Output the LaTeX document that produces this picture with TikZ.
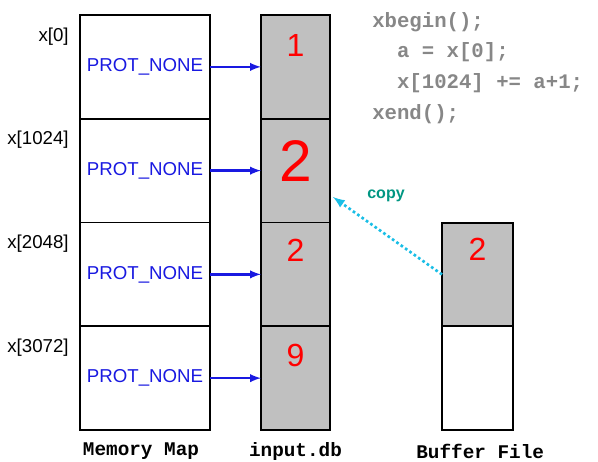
\documentclass[tikz,border=0pt]{standalone}
\usepackage{fontspec}
\setmainfont{Liberation Sans}
\setmonofont{Liberation Mono}
\usetikzlibrary{positioning}
\definecolor{protblue}{RGB}{25,25,225}
\definecolor{cellgray}{RGB}{192,192,192}
\definecolor{copycyan}{RGB}{25,190,230}
\definecolor{copyteal}{RGB}{0,150,130}
\definecolor{codegray}{RGB}{135,135,135}

\begin{document}
\begin{tikzpicture}[x=0.75pt,y=-0.75pt,
  mapcell/.style={draw,line width=1.4pt,fill=white,minimum width=97.5pt,minimum height=77.8pt,
    inner sep=0pt,outer sep=0pt,text=protblue,font=\fontsize{14}{16}\selectfont},
  dbcell/.style={draw,line width=1.4pt,fill=cellgray,minimum width=51.75pt,minimum height=77.8pt,
    inner sep=0pt,outer sep=0pt},
  bufcell/.style={dbcell,minimum width=53.25pt},
  addr/.style={anchor=east,font=\fontsize{14}{16}\selectfont},
  num/.style={text=red,font=\fontsize{24}{24}\selectfont,inner sep=0pt},
  caption/.style={font=\ttfamily\bfseries\fontsize{14.5}{16}\selectfont},
  protarrow/.style={-latex,draw=protblue,line width=1.8pt}]
  \useasboundingbox (0,0) rectangle (598,461);

  % memory map and input.db
  \foreach \i/\y/\a in {1/66.875/0,2/170.625/1024,3/274.375/2048,4/378.125/3072} {
    \node[mapcell] (m\i) at (145,\y) {PROT\_NONE};
    \node[dbcell] (d\i) at (295.5,\y) {};
    \node[addr] (x\i) at ([xshift=-5pt,yshift=-16pt]m\i.north west) {x[\a]};
    \draw[protarrow] (m\i.east) -- (d\i.west);
  }
  \node[num] (n1) at ([yshift=-22.5pt]d1.north) {1};
  \node[num,font=\fontsize{44}{44}\selectfont] (n2) at ([yshift=7pt]d2.center) {2};
  \node[num] (n3) at ([yshift=-21pt]d3.north) {2};
  \node[num] (n4) at ([yshift=-22pt]d4.north) {9};

  % buffer file
  \node[bufcell] (b1) at (477.5,274.5) {};
  \node[bufcell,fill=white] (b2) [below=0pt of b1] {};
  \node[num] (nb) at ([yshift=-20pt]b1.north) {2};

  % copy back
  \coordinate (copytip) at (333,197);
  \draw[-latex,copycyan,line width=2pt,dotted] (b1.west) -- (copytip);
  \node[text=copyteal,font=\bfseries\fontsize{12}{14}\selectfont] (cp) at (386,196) {copy};

  % transaction
  \node[anchor=north west,align=left,text=codegray,inner sep=0pt,
    font=\ttfamily\bfseries\fontsize{15.5}{23}\selectfont] (src) at (372,12)
    {xbegin();\\~~a = x[0];\\~~x[1024] += a+1;\\xend();};

  \node[caption] (lm) at ([xshift=-3pt,yshift=-16pt]m4.south) {Memory Map};
  \node[caption] (ld) at ([yshift=-16pt]d4.south) {input.db};
  \node[caption] (lb) at ([xshift=2pt,yshift=-16pt]b2.south) {Buffer File};
\end{tikzpicture}
\end{document}
